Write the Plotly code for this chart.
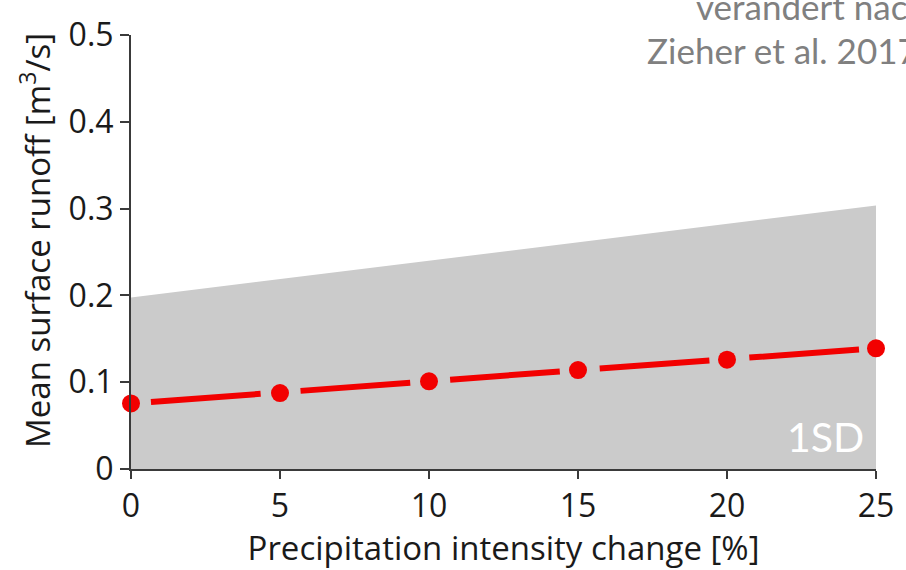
import plotly.graph_objects as go

# Precipitation intensity change [%] and mean surface runoff [m3/s]
intensity_change = [0, 5, 10, 15, 20, 25]
mean_runoff = [0.0755, 0.0875, 0.101, 0.114, 0.126, 0.139]

# Upper edge of the 1SD band (lower edge sits on zero)
band_x = [0, 25]
band_upper = [0.1975, 0.3036]

x_ticks = [0, 5, 10, 15, 20, 25]
x_tick_text = ["0", "5", "10", "15", "20", "25"]
y_ticks = [0, 0.1, 0.2, 0.3, 0.4, 0.5]
y_tick_text = ["0", "0.1", "0.2", "0.3", "0.4", "0.5"]

TICK_FONT = dict(family="Open Sans", size=32, color="#1a1a1a")
TITLE_FONT = dict(family="Open Sans", size=33, color="#1a1a1a")
NOTE_FONT = dict(family="Lato", size=35, color="#808080")
RED = "#f20000"
GREY = "#cbcbcb"

fig = go.Figure()

fig.add_trace(go.Scatter(
    x=band_x, y=band_upper, mode="lines", fill="tozeroy",
    fillcolor=GREY, line=dict(width=0, color=GREY),
    hoverinfo="skip", showlegend=False,
))

# dashed line with a gap either side of every marker
fig.add_trace(go.Scatter(
    x=intensity_change, y=mean_runoff, mode="lines",
    line=dict(color=RED, width=6, dash="0px,20px,110px,20px"),
    showlegend=False, cliponaxis=False,
))
fig.add_trace(go.Scatter(
    x=intensity_change, y=mean_runoff, mode="markers",
    marker=dict(color=RED, size=18, line=dict(width=0)),
    showlegend=False, cliponaxis=False,
))

fig.update_xaxes(
    range=[0, 25], tickvals=x_ticks, ticktext=x_tick_text,
    showline=True, linecolor="#3a3a3a", linewidth=2,
    ticks="outside", ticklen=8, tickwidth=2, tickcolor="#3a3a3a",
    showgrid=False, zeroline=False, tickfont=TICK_FONT,
    title=dict(text="Precipitation intensity change [%]", font=TITLE_FONT, standoff=8),
)
fig.update_yaxes(
    range=[0, 0.5], tickvals=y_ticks, ticktext=y_tick_text,
    showline=True, linecolor="#3a3a3a", linewidth=2,
    ticks="outside", ticklen=9, tickwidth=2, tickcolor="#3a3a3a",
    showgrid=False, zeroline=False, tickfont=TICK_FONT,
)

# y-axis title
fig.add_annotation(
    text="Mean surface runoff [m<sup>3</sup>/s]", xref="paper", yref="paper",
    x=-(131 - 35) / 749, y=(472 - 236) / 448, xanchor="center", yanchor="middle",
    textangle=-90, showarrow=False, font=TITLE_FONT,
)

fig.add_annotation(
    text="1SD", xref="x", yref="y", x=24.5, y=0.038, xanchor="right", yanchor="middle",
    xshift=5, showarrow=False, font=dict(family="Lato", size=41, color="white"),
)
fig.add_annotation(
    text="verändert nach", xref="paper", yref="paper", x=(697 - 131) / 749, y=1.0,
    xanchor="left", yanchor="bottom", yshift=6, showarrow=False, font=NOTE_FONT,
)
fig.add_annotation(
    text="Zieher et al. 2017", xref="paper", yref="paper", x=(648 - 131) / 749, y=1.0,
    xanchor="left", yanchor="top", yshift=8, showarrow=False, font=NOTE_FONT,
)

fig.update_layout(
    width=906, height=570,
    margin=dict(l=131, r=26, t=24, b=98),
    paper_bgcolor="white", plot_bgcolor="white",
    showlegend=False,
)

fig.write_html("out.html")
